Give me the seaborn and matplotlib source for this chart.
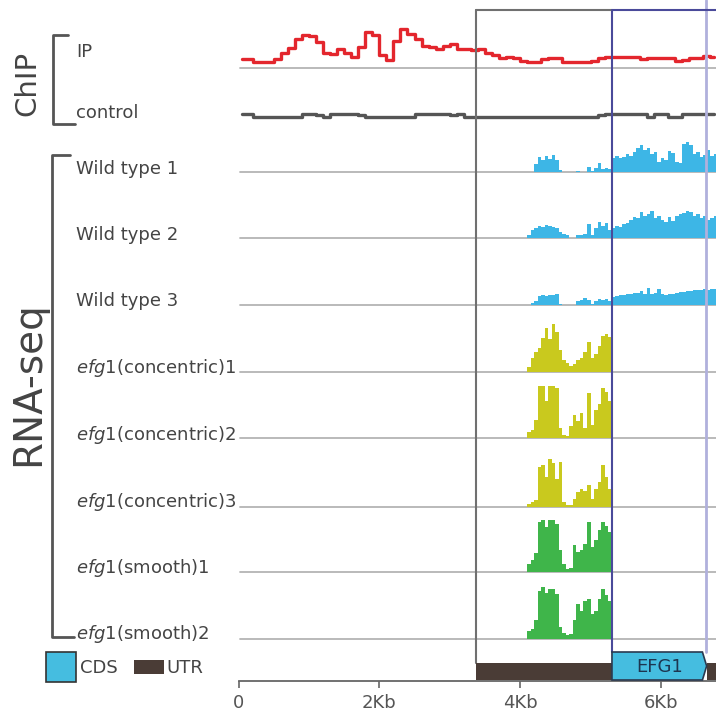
import numpy as np
import pandas as pd
import matplotlib.pyplot as plt
import seaborn as sns
from matplotlib.patches import Polygon, Rectangle

# ChIP signal, 0.1 Kb bins from 0 Kb (heights in track units)
ip_signal = [6, 6, 3, 3, 3, 6, 12, 17, 26, 30, 29, 23, 12, 11, 16, 12, 8, 18, 33, 30,
             10, 5, 24, 36, 31, 26, 19, 18, 16, 19, 21, 16, 16, 15, 16, 12, 10, 7, 8, 7,
             4, 3, 3, 6, 7, 7, 3, 3, 3, 3, 4, 7, 8, 8, 8, 8, 8, 6, 7, 7,
             7, 7, 4, 5, 7, 7, 9, 8]
control_signal = [4, 4, 0, 0, 0, 0, 0, 0, 0, 4, 4, 2, 0, 4, 4, 4, 4, 2, 0, 0,
                  0, 0, 0, 0, 0, 3, 4, 4, 4, 4, 2, 3, 0, 0, 0, 0, 0, 0, 0, 0,
                  0, 0, 0, 0, 0, 0, 0, 0, 0, 0, 0, 2, 4, 3, 4, 3, 4, 3, 0, 3,
                  3, 0, 0, 3, 4, 3, 4, 3]

# RNA-seq coverage, 0.05 Kb bins from 4.1 Kb
wild_type_1 = [0, 0, 8, 15, 12, 16, 13, 17, 12, 2, 0, 0, 0, 0, 1, 0, 0, 5, 1, 4,
               9, 3, 4, 3, 14, 16, 14, 15, 18, 16, 20, 24, 27, 22, 24, 18, 20, 10, 14, 12,
               21, 19, 10, 9, 28, 30, 27, 18, 20, 15, 17, 22, 16, 18]
wild_type_2 = [3, 8, 10, 12, 11, 13, 12, 11, 10, 6, 4, 3, 0, 0, 3, 3, 4, 14, 3, 10,
               16, 12, 15, 8, 10, 12, 11, 14, 15, 18, 21, 20, 26, 22, 24, 27, 20, 22, 18, 16,
               21, 17, 22, 24, 25, 27, 26, 22, 24, 20, 22, 18, 20, 22]
wild_type_3 = [0, 2, 4, 9, 10, 9, 10, 10, 11, 1, 0, 0, 0, 0, 4, 5, 7, 5, 1, 4,
               6, 5, 6, 4, 8, 9, 10, 10, 11, 11, 12, 12, 14, 11, 17, 11, 12, 16, 11, 10,
               11, 11, 12, 13, 13, 14, 14, 15, 15, 15, 16, 15, 16, 16]
concentric_1 = [5, 14, 20, 24, 34, 44, 33, 48, 40, 22, 12, 9, 6, 8, 12, 14, 20, 30, 14, 18,
                26, 36, 38, 35]
concentric_2 = [6, 8, 18, 52, 52, 37, 52, 52, 50, 10, 3, 2, 12, 23, 17, 25, 10, 45, 13, 28,
                34, 50, 46, 37]
concentric_3 = [3, 5, 7, 40, 42, 30, 48, 44, 28, 45, 5, 2, 2, 8, 15, 18, 16, 22, 8, 18,
                25, 42, 30, 18]
smooth_1 = [8, 12, 19, 50, 52, 45, 52, 52, 48, 22, 8, 3, 4, 27, 20, 22, 28, 50, 25, 32,
            42, 50, 46, 40]
smooth_2 = [8, 10, 19, 48, 52, 46, 50, 50, 45, 12, 6, 4, 5, 19, 35, 28, 38, 40, 25, 28,
            40, 50, 44, 38]

track_labels = ["IP", "control", "Wild type 1", "Wild type 2", "Wild type 3",
                r"$\it{efg1}$(concentric)1", r"$\it{efg1}$(concentric)2", r"$\it{efg1}$(concentric)3",
                r"$\it{efg1}$(smooth)1", r"$\it{efg1}$(smooth)2"]

# gene model (Kb)
utr_start = 3.38
cds_start = 5.305
cds_end = 6.65
ticks_kb = [0, 2, 4, 6]
tick_labels = ["0", "2Kb", "4Kb", "6Kb"]

sns.set_style("white")
plt.rcParams['font.family'] = ['DejaVu Sans']
plt.rcParams['mathtext.fontset'] = 'dejavusans'

W = 716
X0 = 238.5      # pixel of 0 Kb
PXKB = 70.4     # pixels per Kb
XMAX = (W - X0) / PXKB


def Y(py):
    return W - py


fig = plt.figure(figsize=(7.16, 7.16), dpi=100)
# overlay in pixel coords for labels, brackets, legend
lab = fig.add_axes([0, 0, 1, 1])
lab.set_xlim(0, W)
lab.set_ylim(W, 0)
lab.axis('off')

ax = fig.add_axes([X0 / W, 0, (W - X0) / W, 1])
ax.set_facecolor('none')
ax.set_xlim(0, XMAX)
ax.set_ylim(0, W)

# baselines (pixel rows) of each track
baselines = [67.7, 116.7, 172.3, 238.3, 305, 371.7, 438.3, 506.7, 572.3, 639]
label_rows = [57, 118, 174, 240, 306, 373, 440, 507, 573, 639]

for i, b in enumerate(baselines):
    if i == 1:
        continue
    ax.plot([0.02, XMAX], [Y(b), Y(b)], color='#b4b4b4', lw=1.3, zorder=1)

# ChIP tracks
ip_x = np.arange(len(ip_signal)) * 0.1 + 0.05
chip = pd.DataFrame({'kb': ip_x,
                     'ip': Y(baselines[0]) + 3 + np.array(ip_signal),
                     'ctrl': Y(baselines[1]) + np.array(control_signal) * 0.8})
sns.lineplot(data=chip, x='kb', y='ip', ax=ax, color='#e3262d', lw=2.4,
             drawstyle='steps-mid', zorder=3)
sns.lineplot(data=chip, x='kb', y='ctrl', ax=ax, color='#555555', lw=2.4,
             drawstyle='steps-mid', zorder=3)

# RNA-seq tracks
rna = [(wild_type_1, '#3db6e6'), (wild_type_2, '#3db6e6'), (wild_type_3, '#3db6e6'),
       (concentric_1, '#c9c91e'), (concentric_2, '#c9c91e'), (concentric_3, '#c9c91e'),
       (smooth_1, '#3fb54a'), (smooth_2, '#3fb54a')]
for (vals, col), b in zip(rna, baselines[2:]):
    edges = 4.1 + np.arange(len(vals) + 1) * 0.05
    top = Y(b) + np.array(vals + [vals[-1]])
    ax.fill_between(edges, Y(b), top, step='post', color=col, lw=0, zorder=2)

# highlighted region lines
ax.plot([utr_start, utr_start], [Y(10), Y(663)], color='#707070', lw=1.5, zorder=4)
ax.plot([cds_start, cds_start], [Y(10), Y(652)], color='#4a4a9a', lw=1.5, zorder=4)
ax.plot([cds_end - 0.01, cds_end - 0.01], [Y(0), Y(652)], color='#b0b0dc', lw=2, zorder=4)
ax.plot([utr_start, cds_start], [Y(10), Y(10)], color='#707070', lw=1.5, zorder=4)
ax.plot([cds_start, XMAX], [Y(10), Y(10)], color='#4a4a9a', lw=1.5, zorder=4)

# gene model
ax.add_patch(Rectangle((utr_start, Y(680)), cds_start - utr_start, 17,
                       fc='#4a3c36', ec='none', zorder=5))
ax.add_patch(Rectangle((cds_end, Y(680)), XMAX - cds_end, 17,
                       fc='#4a3c36', ec='none', zorder=5))
tip = 0.06
ax.add_patch(Polygon([(cds_start, Y(680)), (cds_start, Y(652)), (cds_end - tip, Y(652)),
                      (cds_end, Y(666)), (cds_end - tip, Y(680))],
                     closed=True, fc='#45bde0', ec='#2a3a50', lw=1.2, zorder=6))
ax.text((cds_start + cds_end) / 2, Y(667), "EFG1", ha='center', va='center',
        fontsize=13, color='#1d3550', zorder=7)

# x axis
for s in ['top', 'right', 'left']:
    ax.spines[s].set_visible(False)
ax.spines['bottom'].set_position(('data', Y(681)))
ax.spines['bottom'].set_color('#666666')
ax.spines['bottom'].set_linewidth(1.3)
ax.set_xticks(ticks_kb)
ax.set_xticklabels(tick_labels)
ax.set_yticks([])
ax.tick_params(axis='x', direction='out', length=5, width=1.2, color='#666666',
               labelsize=13, labelcolor='#555555', pad=4, bottom=True)
ax.set_xlabel('')
ax.set_ylabel('')

# labels
for txt, r in zip(track_labels, label_rows):
    lab.text(76, r, txt, fontsize=13, color='#444444', va='baseline', ha='left')

lab.text(27, 83, "ChIP", rotation=90, fontsize=21, color='#444444', ha='center', va='center')
lab.text(28, 384, "RNA-seq", rotation=90, fontsize=28, color='#444444', ha='center', va='center')

lab.plot([68, 53, 53, 75], [35, 35, 124, 124], color='#555555', lw=2)
lab.plot([70, 52, 52, 74], [155, 155, 637, 637], color='#555555', lw=2)

# legend
lab.add_patch(Rectangle((46, 652), 30, 30, fc='#45bde0', ec='#333333', lw=1.2))
lab.text(80, 668, "CDS", fontsize=13, color='#444444', va='center', ha='left')
lab.add_patch(Rectangle((134, 660), 30, 14, fc='#4a3c36', ec='none'))
lab.text(166, 668, "UTR", fontsize=13, color='#444444', va='center', ha='left')

fig.savefig('out.png', dpi=100)
